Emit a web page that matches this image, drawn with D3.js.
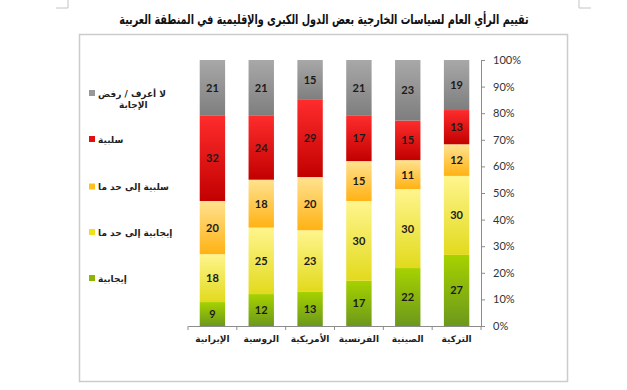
<!DOCTYPE html>
<html><head><meta charset="utf-8">
<script src="https://cdn.jsdelivr.net/npm/d3@7"></script>
<style>body{margin:0;background:#fff}svg{display:block}</style>
</head><body>
<script>
const title = "تقييم الرأي العام لسياسات الخارجية بعض الدول الكبرى والإقليمية في المنطقة العربية";
const categories = ["الإيرانية","الروسية","الأمريكية","الفرنسية","الصينية","التركية"];
const seriesNames = ["إيجابية","إيجابية إلى حد ما","سلبية إلى حد ما","سلبية","لا أعرف / رفض الإجابة"];
const positive = [9,12,13,17,22,27];
const ratherPositive = [18,25,23,30,30,30];
const ratherNegative = [20,18,20,15,11,12];
const negative = [32,24,29,17,15,13];
const dontKnow = [21,21,15,21,23,19];
const yTicks = [0,0.1,0.2,0.3,0.4,0.5,0.6,0.7,0.8,0.9,1];
const seriesValues = [positive, ratherPositive, ratherNegative, negative, dontKnow];
const gradStops = [["#a6d200","#6c981c"],["#fff58e","#e2da1c"],["#ffe290","#ffb214"],["#ff2c2c","#c20000"],["#a8a8a8","#7e7e7e"]];
const legendSwatch = ["#8db600","#f0e020","#ffc020","#e01010","#999999"];

const W=627,H=390;
const svg=d3.select("body").append("svg").attr("width",W).attr("height",H);
const defs=svg.append("defs");
gradStops.forEach((g,i)=>{
  const lg=defs.append("linearGradient").attr("id","g"+i).attr("x1",0).attr("y1",0).attr("x2",0).attr("y2",1);
  lg.append("stop").attr("offset","0%").attr("stop-color",g[0]);
  lg.append("stop").attr("offset","100%").attr("stop-color",g[1]);
});

// crop marks and frame
svg.append("path").attr("d","M68,0V8H56 M579,0V8H591").attr("fill","none").attr("stroke","#c4c4c4").attr("stroke-width",1);
svg.append("rect").attr("x",79.5).attr("y",34.5).attr("width",488).attr("height",347)
  .attr("fill","none").attr("stroke","#cccccc").attr("stroke-width",1.5);

// title: keep glyph height, compress horizontally to ~410px
const tg=svg.append("g");
const t=tg.append("text").attr("x",0).attr("y",0).attr("text-anchor","middle")
  .attr("font-family","DejaVu Sans").attr("font-weight","bold").attr("font-size",13.5)
  .attr("direction","rtl").attr("fill","#111").text(title);
const tw=t.node().getComputedTextLength();
const sx=tw>0?Math.min(1.2,410/tw):1;
tg.attr("transform",`translate(324,24) scale(${sx},1)`);

const x=d3.scaleBand().domain(categories).range([188,481]).paddingInner(0.48).paddingOuter(0.24);
const y=d3.scaleLinear().domain([0,1]).range([326,60]);

const rows=categories.map((c,i)=>{
  const o={cat:c};
  const tot=d3.sum(seriesValues,s=>s[i]);
  seriesValues.forEach((s,k)=>o["s"+k]=s[i]/tot);
  o.raw=seriesValues.map(s=>s[i]);
  return o;
});
const stack=d3.stack().keys(seriesValues.map((_,k)=>"s"+k));
const stacked=stack(rows);

stacked.forEach((layer,k)=>{
  const g=svg.append("g");
  g.selectAll("rect").data(layer).join("rect")
    .attr("x",d=>x(d.data.cat)).attr("width",x.bandwidth())
    .attr("y",d=>y(d[1])).attr("height",d=>y(d[0])-y(d[1]))
    .attr("fill","url(#g"+k+")");
  g.selectAll("text").data(layer).join("text")
    .attr("x",d=>x(d.data.cat)+x.bandwidth()/2)
    .attr("y",d=>(y(d[0])+y(d[1]))/2+4)
    .attr("text-anchor","middle").attr("font-family","Lato").attr("font-weight","bold")
    .attr("font-size",11).attr("fill","#1a1a1a")
    .text(d=>d.data.raw[k]);
});

// right axis
const ya=svg.append("g").attr("transform","translate(481,0)")
  .call(d3.axisRight(y).tickValues(yTicks).tickFormat(d3.format(".0%")).tickSize(4).tickPadding(8));
ya.select(".domain").attr("stroke","#8c8c8c");
ya.selectAll(".tick line").attr("stroke","#8c8c8c");
ya.selectAll("text").attr("font-family","Lato").attr("font-size",11).attr("fill","#333");

// x axis
const xa=svg.append("g").attr("transform","translate(0,326)")
  .call(d3.axisBottom(x).tickSize(0).tickPadding(10));
xa.select(".domain").attr("stroke","#8c8c8c");
xa.selectAll("text").attr("font-family","DejaVu Sans").attr("font-weight","bold").attr("font-size",9).attr("fill","#222").attr("direction","rtl");
const bounds=[0,1,2,3,4,5,6].map(i=>188+i*(293/6));
svg.append("g").selectAll("line").data(bounds).join("line")
  .attr("x1",d=>d).attr("x2",d=>d).attr("y1",326).attr("y2",330).attr("stroke","#8c8c8c");

// legend
const legY=[278,232,186.5,139,93];
const lg=svg.append("g");
seriesNames.forEach((n,k)=>{
  lg.append("rect").attr("x",89).attr("y",legY[k]-3).attr("width",6).attr("height",6).attr("fill",legendSwatch[k]);
});
const legLines=[[["إيجابية",98]],[["إيجابية إلى حد ما",98]],[["سلبية إلى حد ما",98]],[["سلبية",98]],[["لا أعرف / رفض",98],["الإجابة",119]]];
legLines.forEach((lines,k)=>{
  lines.forEach((ln,j)=>{
    lg.append("text").attr("x",ln[1]).attr("y",legY[k]+3.5+j*11).attr("font-family","DejaVu Sans")
      .attr("font-weight","bold").attr("font-size",9).attr("fill","#222").attr("direction","ltr")
      .attr("unicode-bidi","plaintext").text(ln[0]);
  });
});
</script>
</body></html>
